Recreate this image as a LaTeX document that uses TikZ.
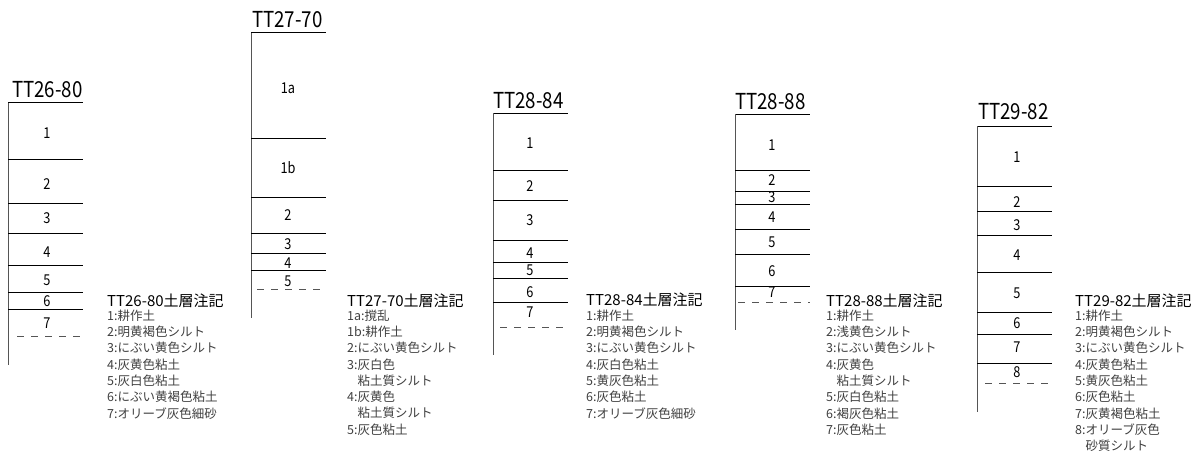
\documentclass[tikz,border=0pt]{standalone}
\usepackage{fontspec}
\setmainfont{Noto Sans CJK JP}
\newfontfamily\gothic{Noto Sans CJK JP}
\newfontfamily\condgothic[FakeStretch=0.85]{Noto Sans CJK JP}
\usepackage{tikz}
\usetikzlibrary{calc}
\definecolor{postcolor}{HTML}{555555}
\definecolor{notecolor}{HTML}{404040}

\tikzset{
  coltitle/.style={anchor=base west,inner sep=0pt,font=\condgothic\fontsize{22}{22}\selectfont},
  topline/.style={black,line width=1pt},
  post/.style={postcolor,line width=1.3pt},
  bound/.style={black,line width=0.9pt},
  limit/.style={postcolor,line width=0.9pt,dash pattern=on 7pt off 7pt},
  layernum/.style={inner sep=0pt,font=\condgothic\fontsize{15}{15}\selectfont},
  notetitle/.style={anchor=west,inner sep=0pt,font=\gothic\fontsize{15}{15}\selectfont},
  notes/.style={anchor=north west,inner sep=0pt,align=left,text=notecolor,font=\gothic\fontsize{12.5}{16.3}\selectfont},
}

\begin{document}
\begin{tikzpicture}[x=1pt,y=-1pt]
\useasboundingbox (0,0) rectangle (1203,452);

% TT26-80
\node[coltitle] (t2680) at (12,97) {TT26-80};
\draw[topline] (8,103) -- (83,103);
\draw[post] (8.5,103) -- (8.5,365);
\foreach \y in {159,203,233,265,292,309} \draw[bound] (8,\y) -- (83,\y);
\draw[limit] (17,336) -- (83,336);
\foreach \n/\y in {1/133,2/184,3/218,4/252,5/280,6/301,7/323}
   \node[layernum] (l2680-\n) at (47,\y) {\n};
\node[notetitle] (n2680) at (107,301) {TT26-80土層注記};
\node[notes] (i2680) at (107,309.5) {1:耕作土\\2:明黄褐色シルト\\3:にぶい黄色シルト\\4:灰黄色粘土\\5:灰白色粘土\\6:にぶい黄褐色粘土\\7:オリーブ灰色細砂};

% TT27-70
\node[coltitle] (t2770) at (252,28) {TT27-70};
\draw[topline] (251,33) -- (326,33);
\draw[post] (251.5,33) -- (251.5,318);
\foreach \y in {138,197,233,253,270} \draw[bound] (251,\y) -- (326,\y);
\draw[limit] (257,289) -- (326,289);
\foreach \n/\y in {1a/88,1b/168,2/215,3/244,4/263,5/281}
   \node[layernum] (l2770-\n) at (288,\y) {\n};
\node[notetitle] (n2770) at (347,301) {TT27-70土層注記};
\node[notes] (i2770) at (347,309.5) {1a:撹乱\\1b:耕作土\\2:にぶい黄色シルト\\3:灰白色\\\phantom{3:}粘土質シルト\\4:灰黄色\\\phantom{4:}粘土質シルト\\5:灰色粘土};

% TT28-84
\node[coltitle] (t2884) at (493,108) {TT28-84};
\draw[topline] (493,113) -- (568,113);
\draw[post] (493.5,113) -- (493.5,355);
\foreach \y in {170,200,240,262,278,302} \draw[bound] (493,\y) -- (568,\y);
\draw[limit] (500,327) -- (568,327);
\foreach \n/\y in {1/143,2/186,3/220,4/253,5/270,6/292,7/312}
   \node[layernum] (l2884-\n) at (530,\y) {\n};
\node[notetitle] (n2884) at (586,300) {TT28-84土層注記};
\node[notes] (i2884) at (586,309.5) {1:耕作土\\2:明黄褐色シルト\\3:にぶい黄色シルト\\4:灰白色粘土\\5:黄灰色粘土\\6:灰色粘土\\7:オリーブ灰色細砂};

% TT28-88
\node[coltitle] (t2888) at (735,110) {TT28-88};
\draw[topline] (735,114) -- (810,114);
\draw[post] (735.5,114) -- (735.5,330);
\foreach \y in {170,191,204,229,254,286} \draw[bound] (735,\y) -- (810,\y);
\draw[limit] (738,302) -- (810,302);
\foreach \n/\y in {1/145,2/180,3/197,4/217,5/242,6/271,7/292}
   \node[layernum] (l2888-\n) at (772,\y) {\n};
\node[notetitle] (n2888) at (826,301) {TT28-88土層注記};
\node[notes] (i2888) at (826,309.5) {1:耕作土\\2:浅黄色シルト\\3:にぶい黄色シルト\\4:灰黄色\\\phantom{4:}粘土質シルト\\5:灰白色粘土\\6:褐灰色粘土\\7:灰色粘土};

% TT29-82
\node[coltitle] (t2982) at (978,120) {TT29-82};
\draw[topline] (977,126) -- (1052,126);
\draw[post] (977.5,126) -- (977.5,412);
\foreach \y in {186,211,235,272,312,334,363} \draw[bound] (977,\y) -- (1052,\y);
\draw[limit] (985,383) -- (1052,383);
\foreach \n/\y in {1/157,2/202,3/225,4/255,5/293,6/323,7/347,8/372}
   \node[layernum] (l2982-\n) at (1017,\y) {\n};
\node[notetitle] (n2982) at (1075,301) {TT29-82土層注記};
\node[notes] (i2982) at (1075,309.5) {1:耕作土\\2:明黄褐色シルト\\3:にぶい黄色シルト\\4:灰黄色粘土\\5:黄灰色粘土\\6:灰色粘土\\7:灰黄褐色粘土\\8:オリーブ灰色\\\phantom{8:}砂質シルト};

\end{tikzpicture}
\end{document}
